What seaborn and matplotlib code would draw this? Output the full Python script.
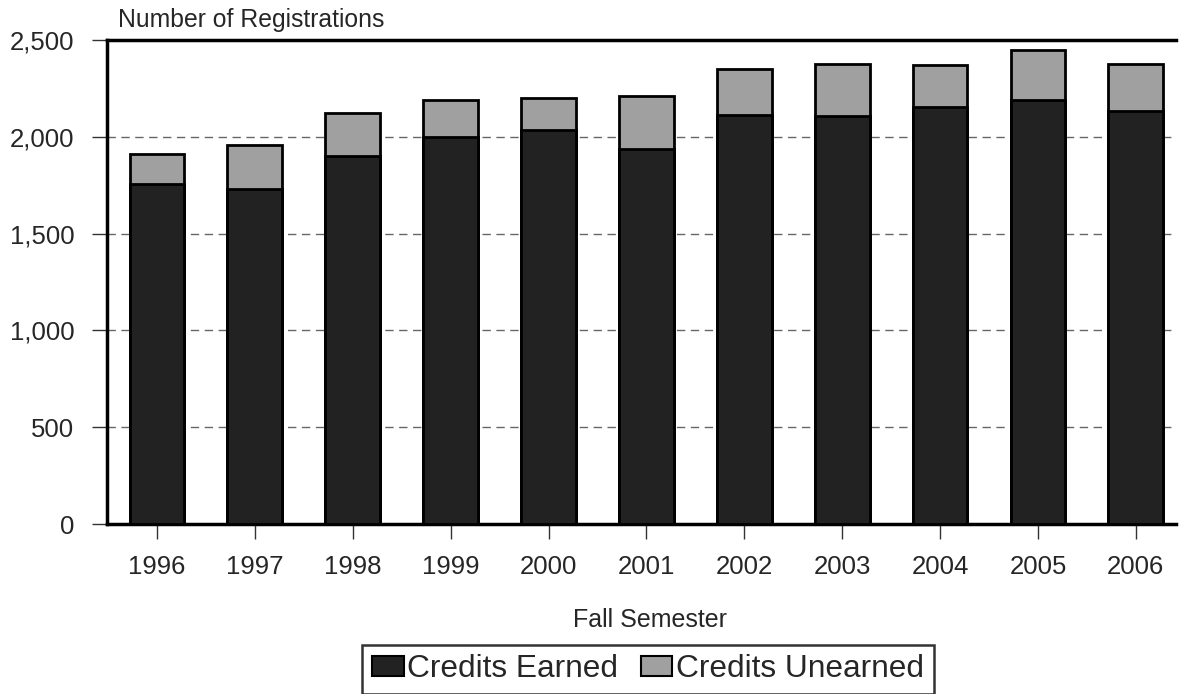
import matplotlib
matplotlib.use("Agg")
import matplotlib.pyplot as plt
import matplotlib.patches as mpatches
import matplotlib.ticker as mticker
import seaborn as sns
import pandas as pd

# values
years = ["1996", "1997", "1998", "1999", "2000", "2001",
         "2002", "2003", "2004", "2005", "2006"]
earned = [1756, 1729, 1902, 1997, 2035, 1937, 2114, 2107, 2154, 2188, 2133]
total = [1911, 1959, 2121, 2190, 2199, 2211, 2352, 2374, 2371, 2450, 2374]

df = pd.DataFrame({"year": years, "earned": earned, "total": total})

dark = "#222222"
grey = "#a0a0a0"

sns.set_style("white")
plt.rcParams["font.family"] = ["Liberation Sans", "DejaVu Sans"]

fig = plt.figure(figsize=(11.81, 6.94), dpi=100)
ax = fig.add_axes([107 / 1181, 170 / 694, 1069 / 1181, 484 / 694])

# stacked bars: total (grey) underneath, earned (dark) drawn over it
sns.barplot(data=df, x="year", y="total", color=grey, width=0.56,
            edgecolor="black", linewidth=2, saturation=1, ax=ax, zorder=2)
sns.barplot(data=df, x="year", y="earned", color=dark, width=0.56,
            edgecolor="black", linewidth=2, saturation=1, ax=ax, zorder=3)

ax.set_ylim(0, 2500)
ax.set_xlim(-0.51, 10.41)
ax.yaxis.set_major_locator(mticker.MultipleLocator(500))
ax.yaxis.set_major_formatter(mticker.FuncFormatter(lambda v, p: f"{int(v):,}"))
ax.grid(axis="y", linestyle=(0, (6, 4)), color="#666666", linewidth=1, zorder=0)
ax.set_axisbelow(True)

for s in ["left", "bottom", "top"]:
    ax.spines[s].set_color("black")
    ax.spines[s].set_linewidth(2.5)
ax.spines["right"].set_visible(False)

ax.tick_params(axis="both", which="major", bottom=True, left=True,
               direction="out", length=10.5, width=1, color="#333333",
               labelsize=18.5)
ax.tick_params(axis="x", pad=12)
ax.tick_params(axis="y", pad=13)
ax.set_xlabel("")
ax.set_ylabel("")

fig.text(118 / 1181, 1 - 27 / 694, "Number of Registrations", fontsize=17.8,
         va="baseline", ha="left")
fig.text(650 / 1181, 1 - 620 / 694, "Fall Semester", fontsize=18,
         va="center", ha="center")

handles = [mpatches.Patch(facecolor=dark, edgecolor="black", linewidth=1.5, label="Credits Earned"),
           mpatches.Patch(facecolor=grey, edgecolor="black", linewidth=1.5, label="Credits Unearned")]
leg = fig.legend(handles=handles, loc="center", bbox_to_anchor=(648 / 1181, 1 - 669 / 694),
                 ncol=2, fontsize=22.8, frameon=True, fancybox=False,
                 handlelength=1.0, handleheight=0.6, handletextpad=0.12,
                 columnspacing=0.7, borderpad=0.3, borderaxespad=0)
leg.get_frame().set_edgecolor("black")
leg.get_frame().set_linewidth(1.8)

fig.savefig("out.png", dpi=100)
